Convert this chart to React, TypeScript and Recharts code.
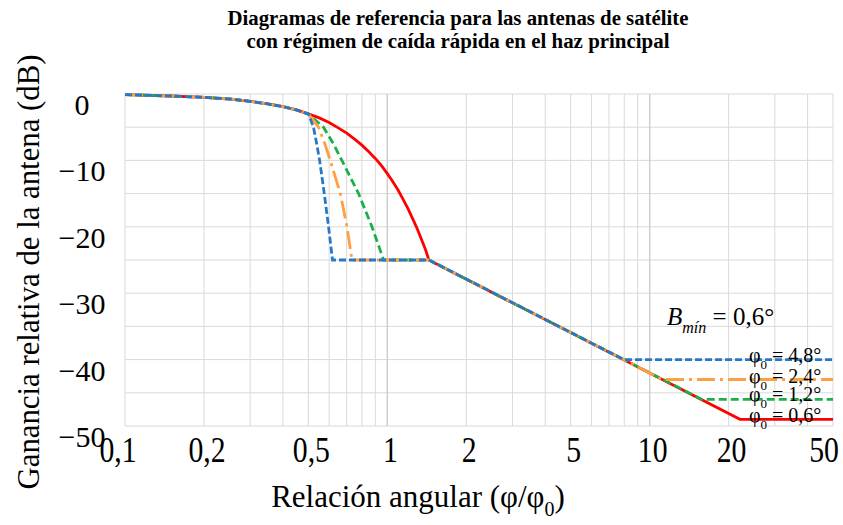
import { LineChart, Line, XAxis, YAxis, CartesianGrid, ReferenceLine } from 'recharts';

// Eje X logarítmico: líneas de rejilla y etiquetas
const xGridTicks = [0.1, 0.2, 0.3, 0.4, 0.5, 0.6, 0.7, 0.8, 0.9, 1, 2, 3, 4, 5, 6, 7, 8, 9, 10, 20, 30, 40, 50];
const xLabelTicks = [0.1, 0.2, 0.5, 1, 2, 5, 10, 20, 50];
const yGridTicks = [-50, -45, -40, -35, -30, -25, -20, -15, -10, -5, 0];
const yLabelTicks = [0, -10, -20, -30, -40, -50];

// Lóbulo principal común (hasta -3 dB en 0,5)
const mainLobeX = [0.1, 0.15, 0.2, 0.25, 0.3, 0.35, 0.4, 0.45, 0.5];
const mainLobeG = [-0.1, -0.3, -0.5, -0.75, -1.1, -1.5, -1.9, -2.4, -3];

// Continuación del lóbulo principal (φ0 = 0,6°)
const slowLobeX = [0.55, 0.6, 0.65, 0.7, 0.75, 0.8, 0.85, 0.9, 0.95, 1, 1.05, 1.1, 1.15, 1.2, 1.25, 1.3, 1.35, 1.4, 1.44];
const slowLobeG = [-3.6, -4.3, -5.1, -5.9, -6.8, -7.7, -8.7, -9.7, -10.8, -12, -13.2, -14.5, -15.9, -17.3, -18.8, -20.3, -21.9, -23.5, -25];

// Caída rápida
const rollOffG = [-5, -7.5, -10, -15, -20, -25];
const rollOff48X = [0.523, 0.538, 0.552, 0.575, 0.597, 0.618];
const rollOff24X = [0.547, 0.578, 0.606, 0.662, 0.702, 0.733];
const rollOff12X = [0.571, 0.623, 0.671, 0.777, 0.874, 0.968];

// Codo de los lóbulos laterales y suelos
const kneeX = 1.44;
const kneeG = -25;
const floorStartX = { p48: 7.97, p24: 11.2, p12: 15.8, p06: 22.1 };
const floorG = { p48: -40, p24: -43, p12: -46, p06: -49 };
const endX = 50;

const pts = (xs: number[], gs: number[]) => xs.map((x, i) => ({ x, g: gs[i] }));

const mainLobe = pts(mainLobeX, mainLobeG);

const series06 = [
  ...mainLobe,
  ...pts(slowLobeX, slowLobeG),
  { x: floorStartX.p06, g: floorG.p06 },
  { x: endX, g: floorG.p06 },
];

const fastSeries = (rx: number[], fx: number, fg: number) => [
  ...mainLobe,
  ...pts(rx, rollOffG),
  { x: kneeX, g: kneeG },
  { x: fx, g: fg },
  { x: endX, g: fg },
];

const series12 = fastSeries(rollOff12X, floorStartX.p12, floorG.p12);
const series24 = fastSeries(rollOff24X, floorStartX.p24, floorG.p24);
const series48 = fastSeries(rollOff48X, floorStartX.p48, floorG.p48);

const serif = "'Liberation Serif', 'DejaVu Serif', 'Times New Roman', serif";

const fmtX = (v: number) => String(v).replace('.', ',');

const XTick = (props: any) => {
  const { x, payload } = props;
  if (!xLabelTicks.includes(payload.value)) return null;
  // las etiquetas de los extremos quedan desplazadas hacia dentro
  let dx = 3;
  if (payload.value === 0.1) dx = -7;
  if (payload.value === 50) dx = -9;
  return (
    <text
      transform={`translate(${x + dx},462) scale(0.93,1.1)`}
      textAnchor="middle"
      fontFamily={serif}
      fontSize={32}
      fill="#000"
    >
      {fmtX(payload.value)}
    </text>
  );
};

const YTick = (props: any) => {
  const { y, payload } = props;
  if (!yLabelTicks.includes(payload.value)) return null;
  const label = payload.value === 0 ? '0' : '\u2212' + Math.abs(payload.value);
  return (
    <text x={82} y={y + 21} textAnchor="middle" fontFamily={serif} fontSize={30} fill="#000">
      {label}
    </text>
  );
};

export default function App() {
  return (
    <div style={{ position: 'absolute', left: 0, top: 0, width: 843, height: 525, background: '#fff', fontFamily: serif }}>
      <LineChart
        width={843}
        height={525}
        margin={{ top: 94, right: 10, bottom: 59, left: 65 }}
      >
        <CartesianGrid stroke="#d9d9d9" strokeWidth={1} />
        <XAxis
          dataKey="x"
          type="number"
          scale="log"
          domain={[0.1, 50]}
          ticks={xGridTicks}
          allowDataOverflow
          axisLine={false}
          tickLine={false}
          height={40}
          tick={<XTick />}
          interval={0}
        />
        <YAxis
          type="number"
          domain={[-50, 0]}
          ticks={yGridTicks}
          axisLine={false}
          tickLine={false}
          width={60}
          tick={<YTick />}
          interval={0}
        />
        <ReferenceLine x={1} stroke="#cccccc" strokeWidth={1.3} />
        <ReferenceLine x={10} stroke="#cccccc" strokeWidth={1.3} />
        <Line data={series06} dataKey="g" type="linear" stroke="#ff0000" strokeWidth={2.8} dot={false} isAnimationActive={false} />
        <Line data={series12} dataKey="g" type="linear" stroke="#1baf4b" strokeWidth={2.8} strokeDasharray="8 4" dot={false} isAnimationActive={false} />
        <Line data={series24} dataKey="g" type="linear" stroke="#ff9f40" strokeWidth={2.8} strokeDasharray="18 5 3 5" dot={false} isAnimationActive={false} />
        <Line data={series48} dataKey="g" type="linear" stroke="#2878c8" strokeWidth={2.8} strokeDasharray="7 3" dot={false} isAnimationActive={false} />
      </LineChart>

      <svg
        width={843}
        height={525}
        style={{ position: 'absolute', left: 0, top: 0, pointerEvents: 'none', fontFamily: serif }}
      >
        <text x={458} y={25} textAnchor="middle" fontSize={20.5} fontWeight="bold" textLength={461} lengthAdjust="spacingAndGlyphs">
          Diagramas de referencia para las antenas de satélite
        </text>
        <text x={458} y={48} textAnchor="middle" fontSize={20.5} fontWeight="bold" textLength={423} lengthAdjust="spacingAndGlyphs">
          con régimen de caída rápida en el haz principal
        </text>

        <text
          transform="translate(39,272) rotate(-90) scale(1,1.08)"
          textAnchor="middle"
          fontSize={29}
          textLength={435}
          lengthAdjust="spacingAndGlyphs"
        >
          Ganancia relativa de la antena (dB)
        </text>

        <text x={418} y={507} textAnchor="middle" fontSize={31}>
          Relación angular (φ/φ<tspan fontSize={20} dy={9}>0</tspan><tspan dy={-9}>)</tspan>
        </text>

        <text x={667} y={325} fontSize={25}>
          <tspan fontStyle="italic">B</tspan>
          <tspan fontStyle="italic" fontSize={16} dy={8}>mín</tspan>
          <tspan dy={-8}> = 0,6°</tspan>
        </text>

        {[
          { t: '4,8°', y: 362 },
          { t: '2,4°', y: 383 },
          { t: '1,2°', y: 401 },
          { t: '0,6°', y: 422 },
        ].map((l) => (
          <text key={l.t} x={749} y={l.y} fontSize={20}>
            φ<tspan fontSize={13} dy={7}>0</tspan>
            <tspan dy={-7}> = {l.t}</tspan>
          </text>
        ))}
      </svg>
    </div>
  );
}
